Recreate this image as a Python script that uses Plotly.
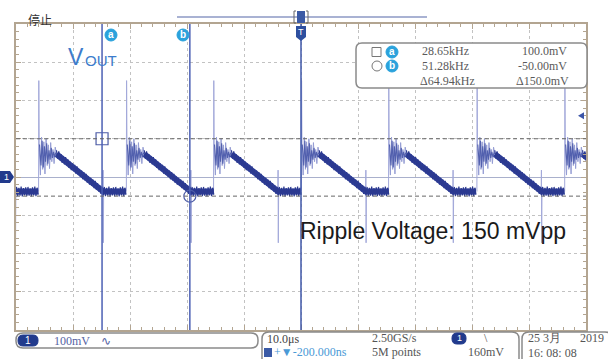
import plotly.graph_objects as go

# ------------------------------------------------------------------
# Data read from the oscilloscope screen
# ------------------------------------------------------------------
TIME_PER_DIV_US = 10.0          # 10.0 us/div, 10 divisions
MV_PER_DIV = 100.0              # 100 mV/div, 8 divisions
trigger_level_mv = 160.0

# cursor read-outs
cursor_a_khz = 28.65
cursor_b_khz = 51.28
cursor_a_mv = 100.0
cursor_b_mv = -50.0
cursor_a_us = -1000.0 / cursor_a_khz
cursor_b_us = -1000.0 / cursor_b_khz

# switching edges (up-spikes) of Vout, in us
spike_times_us = [-61.4, -46.0, -30.6, -15.3, 0.1, 15.4, 30.9, 46.3]

# one switching cycle of Vout: offset from edge (us), level (mV)
upspike_dt = [-0.04, 0.0, 0.07]
upspike_mv = [-38, 252, 75]
downspike_dt = [11.24, 11.28, 11.32, 11.38]
downspike_mv = [-40, 18, -172, -30]

ring_light_dt = [0.07, 0.28, 0.48, 0.68, 0.88, 1.08, 1.28, 1.48, 1.68, 1.88, 2.08, 2.28, 2.48, 2.68, 2.88, 3.10]
ring_light_mv = [75, 5, 104, 20, 92, 8, 100, 30, 84, 22, 90, 40, 72, 35, 78, 60]
ring_dark_dt = [0.12, 0.38, 0.58, 0.78, 0.98, 1.18, 1.38, 1.58, 1.78, 1.98, 2.18, 2.38, 2.58, 2.78, 2.98, 3.10]
ring_dark_mv = [85, 30, 95, 25, 80, 40, 88, 35, 70, 45, 76, 50, 66, 52, 64, 60]

body_dt = [3.1, 11.3, 15.3]
body_mv = [60, -38, -38]

noise_dt = [3.1, 3.3, 3.5, 3.7, 3.9, 4.1, 4.3, 4.5, 4.7, 4.9, 5.1, 5.3, 5.5, 5.7, 5.9, 6.1,
            6.3, 6.5, 6.7, 6.9, 7.1, 7.3, 7.5, 7.7, 7.9, 8.1, 8.3, 8.5, 8.7, 8.9, 9.1, 9.3,
            9.5, 9.7, 9.9, 10.1, 10.3, 10.5, 10.7, 10.9, 11.1, 11.3, 11.5, 11.7, 11.9, 12.1,
            12.3, 12.5, 12.7, 12.9, 13.1, 13.3, 13.5, 13.7, 13.9, 14.1, 14.3, 14.5, 14.7,
            14.9, 15.1, 15.3]
noise_mv = [70, 48, 67, 44, 60, 37, 55, 33, 52, 30, 46, 24, 40, 18, 36, 15,
            32, 9, 28, 6, 21, 0, 17, -6, 13, -9, 8, -15, 2, -20, -2, -23,
            -7, -29, -10, -33, -16, -38, -22, -44, -26, -48, -26, -50, -28, -49,
            -25, -51, -29, -48, -27, -50, -26, -49, -30, -51, -27, -48, -25,
            -50, -28, -46]

# ------------------------------------------------------------------
# Layout geometry (pixels of the 608x359 screen)
# ------------------------------------------------------------------
W, H = 608, 359
L, R, T, B = 16, 586, 24, 330


def px(x):
    return (x - L) / (R - L)


def py(y):
    return (B - y) / (B - T)


def periodic(dts, mvs):
    xs, ys = [], []
    for t0 in spike_times_us:
        xs += [t0 + d for d in dts] + [None]
        ys += list(mvs) + [None]
    return xs, ys


SERIF = "Liberation Serif"
SANS = "Liberation Sans"

fig = go.Figure()


def add_line(dts, mvs, color, width):
    xs, ys = periodic(dts, mvs)
    fig.add_trace(go.Scatter(x=xs, y=ys, mode="lines", line=dict(color=color, width=width),
                             hoverinfo="skip", showlegend=False))


add_line(upspike_dt, upspike_mv, "#a3a9da", 1)
add_line(downspike_dt, downspike_mv, "#a3a9da", 1)
add_line(ring_light_dt, ring_light_mv, "#959dd4", 1)
add_line(body_dt, body_mv, "#30409a", 6)
add_line(noise_dt, noise_mv, "#2b3990", 1.2)
add_line(ring_dark_dt, ring_dark_mv, "#5260ae", 1.1)

# cursor markers
fig.add_trace(go.Scatter(x=[cursor_a_us], y=[cursor_a_mv], mode="markers",
                         marker=dict(symbol="square-open", size=12, color="#4d5ca6", line=dict(width=1.2)),
                         hoverinfo="skip", showlegend=False))
fig.add_trace(go.Scatter(x=[cursor_b_us], y=[cursor_b_mv], mode="markers",
                         marker=dict(symbol="circle-open", size=12, color="#4d5ca6", line=dict(width=1.2)),
                         hoverinfo="skip", showlegend=False))

shapes = []
ann = []

# cursors
for cx in (cursor_a_us, cursor_b_us):
    shapes.append(dict(type="line", xref="x", yref="paper", x0=cx, x1=cx, y0=0, y1=1,
                       line=dict(color="#4c60b4", width=1.5), layer="above"))
shapes.append(dict(type="line", xref="x", yref="paper", x0=0, x1=0, y0=0, y1=1,
                   line=dict(color="#3f57a8", width=1.5), layer="above"))
for cy in (cursor_a_mv, cursor_b_mv):
    shapes.append(dict(type="line", xref="paper", yref="y", x0=0, x1=1, y0=cy, y1=cy,
                       line=dict(color="#666666", width=1, dash="4px,3px"), layer="above"))


def rrect(x0, y0, x1, y1, r):
    return (f"M {px(x0 + r)},{py(y0)} L {px(x1 - r)},{py(y0)} Q {px(x1)},{py(y0)} {px(x1)},{py(y0 + r)} "
            f"L {px(x1)},{py(y1 - r)} Q {px(x1)},{py(y1)} {px(x1 - r)},{py(y1)} "
            f"L {px(x0 + r)},{py(y1)} Q {px(x0)},{py(y1)} {px(x0)},{py(y1 - r)} "
            f"L {px(x0)},{py(y0 + r)} Q {px(x0)},{py(y0)} {px(x0 + r)},{py(y0)} Z")


def box(x0, y0, x1, y1, r, line="#8a8a8a", fill="white", width=1.5):
    shapes.append(dict(type="path", xref="paper", yref="paper", path=rrect(x0, y0, x1, y1, r),
                       line=dict(color=line, width=width), fillcolor=fill, layer="above"))


def circ(cx, cy, r, fill, line=None):
    shapes.append(dict(type="circle", xref="paper", yref="paper",
                       x0=px(cx - r), x1=px(cx + r), y0=py(cy + r), y1=py(cy - r),
                       fillcolor=fill, line=dict(color=line or fill, width=1), layer="above"))


def txt(s, x, y, size=12, color="#555555", anchor="left", family=SERIF):
    ann.append(dict(text=s, x=px(x), y=py(y), xref="paper", yref="paper", xanchor=anchor,
                    yanchor="middle", showarrow=False,
                    font=dict(size=size, color=color, family=family)))


# top status line
txt("停止", 26, 19, 12, "#333333", family="Noto Sans CJK SC")
shapes.append(dict(type="line", xref="paper", yref="paper", x0=px(177), x1=px(427), y0=py(17), y1=py(17),
                   line=dict(color="#8d99c4", width=1.5), layer="above"))
shapes.append(dict(type="rect", xref="paper", yref="paper", x0=px(297), x1=px(305), y0=py(23), y1=py(11),
                   fillcolor="#3b5aa5", line=dict(width=0), layer="above"))
shapes.append(dict(type="path", xref="paper", yref="paper",
                   path=f"M {px(296)},{py(11)} L {px(294)},{py(11)} L {px(294)},{py(23)} L {px(296)},{py(23)} "
                        f"M {px(306)},{py(11)} L {px(308)},{py(11)} L {px(308)},{py(23)} L {px(306)},{py(23)}",
                   line=dict(color="#666666", width=1), layer="above"))
# trigger position marker
shapes.append(dict(type="path", xref="paper", yref="paper",
                   path=f"M {px(296)},{py(26)} L {px(306)},{py(26)} L {px(306)},{py(37)} L {px(301)},{py(41)} "
                        f"L {px(296)},{py(37)} Z",
                   fillcolor="#2d4f9e", line=dict(width=0), layer="above"))
txt("T", 301, 32, 9, "white", "center", SANS)

# cursor labels
circ(111, 35, 6, "#2aa2dc")
txt("<b>a</b>", 111, 34.5, 10, "white", "center", SANS)
circ(183, 35, 6, "#2aa2dc")
txt("<b>b</b>", 183, 34.5, 10, "white", "center", SANS)

# channel ground marker
shapes.append(dict(type="path", xref="paper", yref="paper",
                   path=f"M {px(0)},{py(171)} L {px(10)},{py(171)} L {px(14)},{py(177)} L {px(10)},{py(183)} "
                        f"L {px(0)},{py(183)} Z",
                   fillcolor="#213a8c", line=dict(width=0), layer="above"))
txt("1", 6, 177, 9, "white", "center", SANS)

# trigger level arrow
shapes.append(dict(type="path", xref="paper", yref="y",
                   path=f"M {px(578)},{trigger_level_mv} L {px(584)},{trigger_level_mv + 9} "
                        f"L {px(584)},{trigger_level_mv - 9} Z",
                   fillcolor="#3b55a8", line=dict(width=0), layer="above"))

# VOUT label
txt("V", 66, 57, 23, "#3d7ccc", family=SANS)
txt("OUT", 83, 60.5, 15, "#3d7ccc", family=SANS)

# ripple label
txt("Ripple Voltage: 150 mVpp", 298, 231, 23, "#1a1a1a", family=SANS)

# cursor read-out box
box(356, 43, 587, 88, 6, line="#8a8a8a")
shapes.append(dict(type="rect", xref="paper", yref="paper", x0=px(372), x1=px(381), y0=py(56.5), y1=py(47.5),
                   line=dict(color="#777777", width=1), fillcolor="white", layer="above"))
circ(392, 52, 6, "#2aa2dc")
txt("<b>a</b>", 392, 51.5, 10, "white", "center", SANS)
circ(377, 66, 5, "white", "#777777")
circ(392, 66, 6, "#2aa2dc")
txt("<b>b</b>", 392, 65.5, 10, "white", "center", SANS)
txt(f"{cursor_a_khz:.2f}kHz", 420, 51, 12, "#5a5a5a")
txt(f"{cursor_b_khz:.2f}kHz", 420, 66, 12, "#5a5a5a")
txt("Δ64.94kHz", 418, 81, 12, "#5a5a5a")
txt(f"{cursor_a_mv:.1f}mV", 569, 51, 12, "#5a5a5a", "right")
txt(f"{cursor_b_mv:.2f}mV", 569, 66, 12, "#5a5a5a", "right")
txt(f"Δ{cursor_a_mv - cursor_b_mv:.1f}mV", 571, 81, 12, "#5a5a5a", "right")

# bottom status bar
box(16, 333, 258, 348, 7)
box(18, 335, 38, 346, 5, line="#213a8c", fill="#213a8c", width=1)
txt("1", 28, 340.5, 10, "white", "center", SANS)
txt("100mV", 52, 341, 12, "#5563a3")
txt("∿", 99, 341, 12, "#5563a3", family="DejaVu Sans")

box(262, 332, 519, 366, 7)
txt("10.0μs", 265, 339, 12, "#444444")
shapes.append(dict(type="rect", xref="paper", yref="paper", x0=px(264), x1=px(272), y0=py(357), y1=py(348),
                   fillcolor="#3a5aa6", line=dict(width=0), layer="above"))
txt("+▼-200.000ns", 272, 352, 12, "#4a9ad6")
txt("2.50GS/s", 370, 338, 12, "#555555")
txt("5M points", 370, 352, 12, "#555555")
box(452, 333, 466, 344, 5, line="#213a8c", fill="#213a8c", width=1)
txt("1", 459, 338.5, 9, "white", "center", SANS)
txt("\\", 482, 338, 12, "#555555")
txt("160mV", 466, 352, 12, "#555555")

box(522, 332, 612, 366, 7)
txt("25 3月", 526, 338, 12, "#555555")
txt("2019", 606, 338, 12, "#555555", "right")
txt("16: 08: 08", 526, 352.5, 12, "#555555")

BORDER = "#b3a591"
fig.update_layout(
    width=W, height=H, autosize=False,
    margin=dict(l=L, r=W - R, t=T, b=H - B, pad=0),
    paper_bgcolor="white", plot_bgcolor="white",
    showlegend=False,
    shapes=shapes, annotations=ann,
    xaxis=dict(range=[-5 * TIME_PER_DIV_US, 5 * TIME_PER_DIV_US], dtick=TIME_PER_DIV_US,
               showticklabels=False, showgrid=True, gridcolor="#c2c2c2", griddash="dot", gridwidth=1,
               zeroline=False, showline=True, linecolor=BORDER, linewidth=1.5, mirror="allticks",
               ticks="inside", ticklen=5, tickcolor=BORDER, tickwidth=1,
               minor=dict(dtick=TIME_PER_DIV_US / 5, ticks="inside", ticklen=3, tickcolor=BORDER, showgrid=False),
               fixedrange=True),
    yaxis=dict(range=[-4 * MV_PER_DIV, 4 * MV_PER_DIV], dtick=MV_PER_DIV,
               showticklabels=False, showgrid=True, gridcolor="#c2c2c2", griddash="dot", gridwidth=1,
               zeroline=True, zerolinecolor="#a9b0cc", zerolinewidth=1,
               showline=True, linecolor=BORDER, linewidth=1.5, mirror="allticks",
               ticks="inside", ticklen=5, tickcolor=BORDER, tickwidth=1,
               minor=dict(dtick=MV_PER_DIV / 5, ticks="inside", ticklen=3, tickcolor=BORDER, showgrid=False),
               fixedrange=True),
)

fig.write_html("out.html", config={"displayModeBar": False},
               post_script="document.body.style.margin='0px';document.body.style.overflow='hidden';")
